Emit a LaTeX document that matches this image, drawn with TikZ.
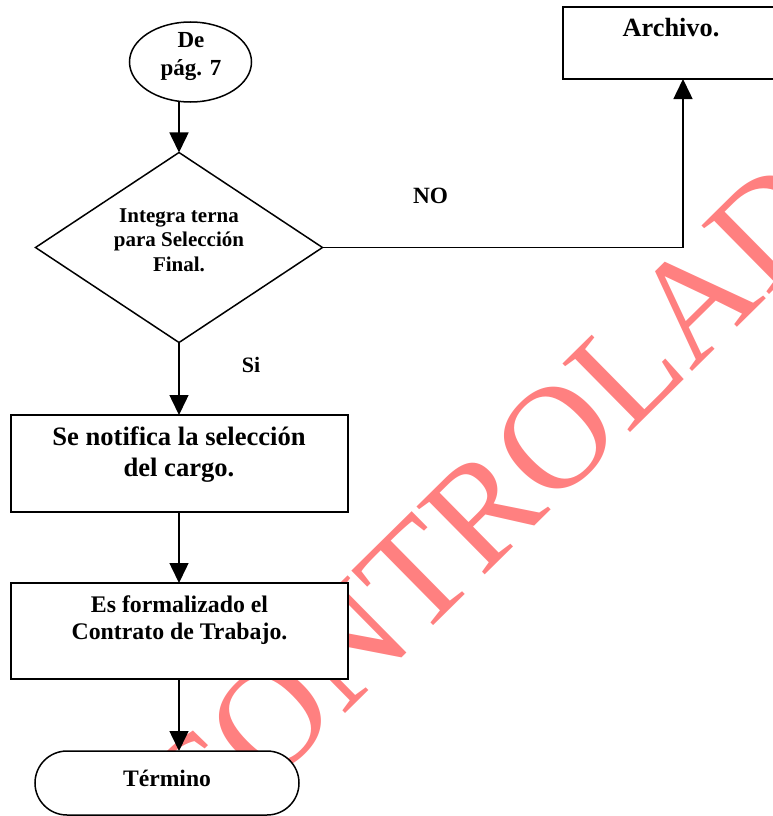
\documentclass[tikz,border=0pt]{standalone}
\usepackage{fontspec}
\setmainfont{Liberation Serif}
\usetikzlibrary{shapes.geometric,shapes.misc,arrows.meta}
\definecolor{wmred}{RGB}{255,128,128}
\newcommand\mlines[2]{\vtop{\baselineskip=#1\halign{\hfil##\hfil\cr#2\crcr}}}
\begin{document}
\begin{tikzpicture}[x=1bp,y=-1bp,
  ln/.style={line width=1.5bp},
  arr/.style={ln,-{Triangle[width=19bp,length=20bp]}},
  shp/.style={draw,line width=1.5bp,fill=white,inner sep=0pt,outer sep=0pt},
  boxr/.style={shp,rectangle},
  txt/.style={inner sep=0pt,anchor=base,font=\bfseries\fontsize{#1bp}{#1bp}\selectfont},
]
\useasboundingbox (0,0) rectangle (773,816);
\begin{scope}
\clip (0,0) rectangle (773,816);
% watermark
\node[text=wmred,inner sep=0pt,rotate=44.6,font=\fontsize{147bp}{147bp}\selectfont] (wm) at (486,507) {CONTROLAD};
% shapes
\node[shp,ellipse,minimum width=122bp,minimum height=80bp] (start) at (190.5,62) {};
\node[shp,diamond,minimum width=287bp,minimum height=190bp] (dec) at (179,247.5) {};
\node[boxr,minimum width=216bp,minimum height=72bp] (arch) at (671,43) {};
\node[boxr,minimum width=337bp,minimum height=97bp] (b1) at (179.5,463.5) {};
\node[boxr,minimum width=337bp,minimum height=96bp] (b2) at (179.5,631) {};
\node[shp,rounded rectangle,minimum width=264bp,minimum height=64bp] (term) at (167,783) {};
\end{scope}
% texts
\node[txt=23] (startt) at (191,48) {\mlines{28bp}{De\cr pág. 7}};
\node[txt=21] (dect) at (179,222) {\mlines{24.5bp}{Integra terna\cr para Selección\cr Final.}};
\node[txt=26.3] (archt) at (671,37) {Archivo.};
\node[txt=26.6] (b1t) at (179,445) {\mlines{31bp}{Se notifica la selección\cr del cargo.}};
\node[txt=23.8] (b2t) at (179.5,612) {\mlines{27bp}{Es formalizado el\cr Contrato de Trabajo.}};
\node[txt=23.6] (termt) at (167,786) {Término};
\node[txt=23.3] (no) at (430.5,203) {NO};
\node[txt=22] (si) at (251,372) {Si};
% connectors
\coordinate (ajoin) at (683,247.5);
\draw[arr] (dec.north |- start.south) -- (dec.north);
\draw[ln] (dec.east) -- (ajoin);
\draw[arr] (ajoin) -- (ajoin |- arch.south);
\draw[arr] (dec.south) -- (dec.south |- b1.north);
\draw[arr] (b1.south -| dec.south) -- (dec.south |- b2.north);
\draw[arr] (b2.south -| dec.south) -- (dec.south |- term.north);
\end{tikzpicture}
\end{document}
